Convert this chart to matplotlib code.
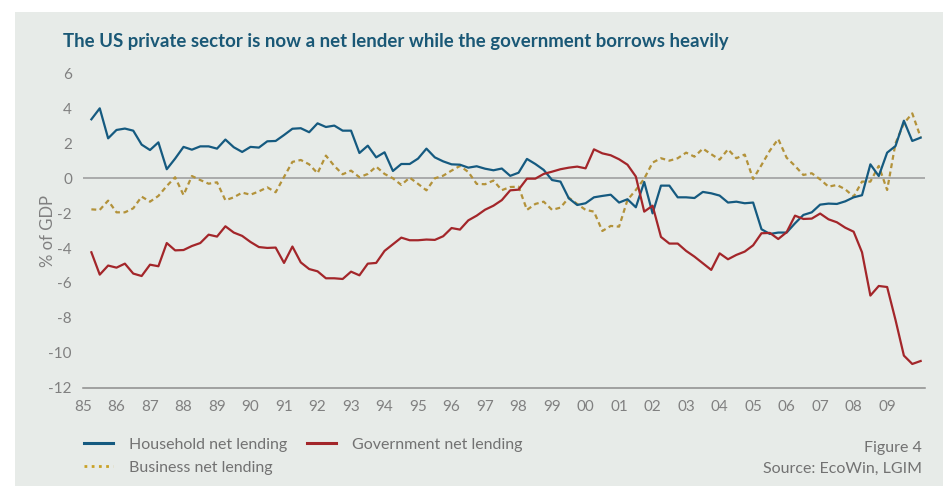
import numpy as np
import matplotlib
matplotlib.use('Agg')
import matplotlib.pyplot as plt
from matplotlib.patches import Rectangle
from matplotlib.lines import Line2D

# quarterly observations, % of GDP
start_year = 1985.25
household = [3.38, 4.01, 2.29, 2.77, 2.85, 2.73, 1.93, 1.62, 2.06, 0.52,
             1.13, 1.80, 1.64, 1.83, 1.83, 1.70, 2.22, 1.78, 1.51, 1.80,
             1.76, 2.12, 2.14, 2.48, 2.84, 2.87, 2.64, 3.15, 2.94, 3.02,
             2.73, 2.73, 1.45, 1.87, 1.20, 1.49, 0.42, 0.82, 0.82, 1.13,
             1.70, 1.20, 0.97, 0.80, 0.78, 0.61, 0.69, 0.55, 0.46, 0.56,
             0.14, 0.32, 1.11, 0.82, 0.48, -0.10, -0.19, -1.15, -1.53, -1.43,
             -1.09, -1.01, -0.94, -1.39, -1.20, -1.66, -0.21, -2.01, -0.42, -0.42,
             -1.09, -1.09, -1.13, -0.78, -0.86, -0.99, -1.39, -1.34, -1.43, -1.39,
             -2.92, -3.19, -3.11, -3.11, -2.58, -2.10, -1.95, -1.51, -1.45, -1.47,
             -1.32, -1.09, -0.97, 0.80, 0.13, 1.47, 1.85, 3.30, 2.14, 2.33]
government = [-4.24, -5.52, -5.00, -5.12, -4.89, -5.46, -5.60, -4.95, -5.04, -3.71,
              -4.13, -4.11, -3.88, -3.71, -3.23, -3.34, -2.75, -3.11, -3.30, -3.65,
              -3.94, -3.99, -3.97, -4.85, -3.91, -4.82, -5.20, -5.33, -5.73, -5.73,
              -5.77, -5.35, -5.56, -4.89, -4.85, -4.16, -3.78, -3.40, -3.55, -3.55,
              -3.51, -3.53, -3.32, -2.85, -2.94, -2.41, -2.14, -1.80, -1.57, -1.25,
              -0.69, -0.65, -0.02, -0.02, 0.25, 0.38, 0.52, 0.61, 0.67, 0.57,
              1.66, 1.43, 1.32, 1.09, 0.78, 0.10, -1.91, -1.57, -3.36, -3.74,
              -3.74, -4.16, -4.49, -4.87, -5.25, -4.30, -4.64, -4.39, -4.20, -3.84,
              -3.15, -3.13, -3.48, -3.09, -2.14, -2.33, -2.31, -2.02, -2.35, -2.52,
              -2.83, -3.06, -4.24, -6.72, -6.17, -6.23, -8.12, -10.16, -10.64, -10.47]
business = [-1.78, -1.81, -1.28, -1.95, -1.95, -1.72, -1.05, -1.34, -1.01, -0.44,
            0.06, -0.96, 0.13, -0.10, -0.31, -0.23, -1.26, -1.09, -0.82, -0.94,
            -0.75, -0.52, -0.80, 0.08, 0.94, 1.05, 0.80, 0.29, 1.30, 0.71,
            0.23, 0.44, 0.06, 0.25, 0.67, 0.25, 0.00, -0.38, 0.04, -0.32,
            -0.69, 0.00, 0.15, 0.44, 0.71, 0.36, -0.32, -0.34, -0.13, -0.68,
            -0.50, -0.48, -1.81, -1.47, -1.34, -1.81, -1.68, -1.11, -1.47, -1.81,
            -1.91, -3.02, -2.73, -2.77, -1.24, -0.67, -0.02, 0.90, 1.15, 1.01,
            1.15, 1.47, 1.24, 1.70, 1.38, 1.07, 1.66, 1.15, 1.36, -0.04,
            0.76, 1.59, 2.25, 1.18, 0.71, 0.19, 0.29, -0.06, -0.48, -0.38,
            -0.63, -1.05, -0.19, -0.19, 0.71, -0.67, 2.01, 3.15, 3.72, 2.35]
years = list(range(1985, 2010))
year_labels = ['%02d' % (y % 100) for y in years]
yticks = [6, 4, 2, 0, -2, -4, -6, -8, -10, -12]

BLUE = '#155a80'
RED = '#a3262a'
GOLD = '#b3923a'
GREY = '#808080'
TEXT = '#727272'
BG = '#e7ebe8'

plt.rcParams['font.family'] = ['Lato', 'DejaVu Sans']

quarters = start_year + 0.25 * np.arange(len(household))

fig = plt.figure(figsize=(9.47, 4.86), dpi=100)
fig.patch.set_facecolor('white')
fig.patches.append(Rectangle((15 / 947, 0), 928 / 947, 474 / 486,
                             transform=fig.transFigure, facecolor=BG,
                             edgecolor='none', zorder=-10))

ax = fig.add_axes([83 / 947, 1 - 387.7 / 486, 842 / 947, 314.1 / 486])
ax.set_facecolor('none')

ax.axhline(0, color='#9a9a9a', lw=1.1, zorder=1)
ax.plot(quarters, household, color=BLUE, lw=1.6, zorder=3)
ax.plot(quarters, government, color=RED, lw=1.6, zorder=3)
ax.plot(quarters, business, color=GOLD, lw=1.6, ls=(0, (2.2, 1.6)), zorder=2)

ax.set_xlim(1985.04, 2010.13)
ax.set_ylim(-12, 6)
ax.set_xticks(years)
ax.set_xticklabels(year_labels)
ax.set_yticks(yticks)
ax.set_yticklabels([str(t) for t in yticks])
ax.tick_params(length=0, labelsize=11, colors=GREY)
ax.tick_params(axis='x', pad=9)
ax.tick_params(axis='y', pad=8)
for side in ('top', 'right', 'left'):
    ax.spines[side].set_visible(False)
ax.spines['bottom'].set_color('#8c8c8c')
ax.spines['bottom'].set_linewidth(1.1)
ax.set_ylabel('% of GDP', color=GREY, fontsize=12, labelpad=-5.5)

fig.text(63 / 947, 1 - 42 / 486,
         'The US private sector is now a net lender while the government borrows heavily',
         color='#1a5876', fontsize=13.45, fontweight='bold', va='center', ha='left')

handles = [Line2D([], [], color=BLUE, lw=2.2),
           Line2D([], [], color=RED, lw=2.2),
           Line2D([], [], color='#c9a227', lw=2, ls=(0, (1, 1.6)))]
labels = ['Household net lending', 'Government net lending', 'Business net lending']
fig.legend([handles[0], handles[2], handles[1]],
           [labels[0], labels[2], labels[1]], ncol=2,
           loc='upper left', bbox_to_anchor=(77.6 / 947, 1 - 431 / 486),
           frameon=False, fontsize=11.5, labelcolor=TEXT,
           handlelength=1.8, handletextpad=1.0, columnspacing=1.25,
           labelspacing=0.58, borderaxespad=0)

fig.text(922 / 947, 1 - 448 / 486, 'Figure 4', color=TEXT,
         fontsize=11.5, ha='right', va='center')
fig.text(922 / 947, 1 - 469 / 486, 'Source: EcoWin, LGIM', color=TEXT,
         fontsize=11.5, ha='right', va='center')

fig.savefig('out.png', dpi=100, facecolor=fig.get_facecolor())
